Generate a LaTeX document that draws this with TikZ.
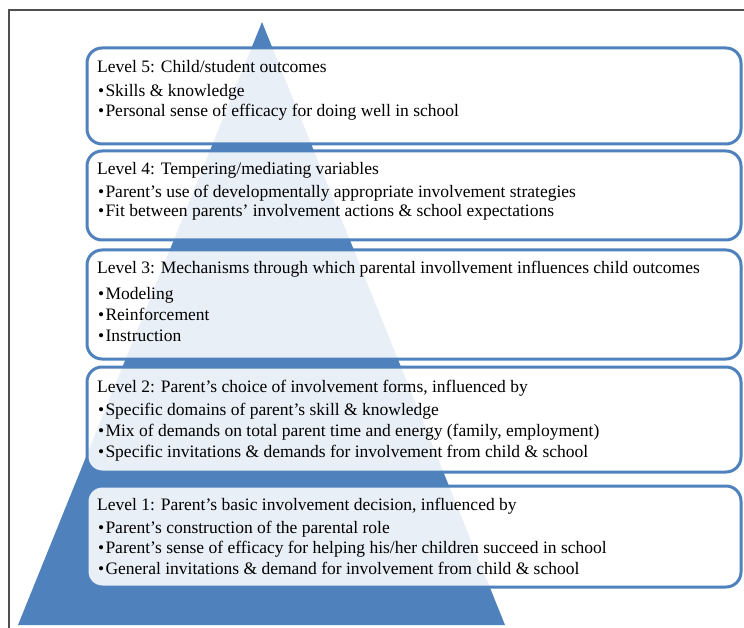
\documentclass[tikz,border=0pt]{standalone}
\usepackage{fontspec}
\setmainfont{Liberation Serif}
\definecolor{PyramidBlue}{HTML}{4F81BD}
\definecolor{FrameGray}{HTML}{505050}
\newcommand{\bulletline}[1]{\textbullet\hspace{1.2pt}#1}

\begin{document}
\begin{tikzpicture}[x=1pt, y=-1pt, every node/.style={font=\fontsize{17.5}{20}\selectfont},
  level/.style={draw=PyramidBlue, line width=3pt, rounded corners=15pt, fill=white, fill opacity=0.88, text opacity=1,
    anchor=north west, minimum width=654pt, inner sep=0pt, outer sep=0pt},
  head/.style={anchor=base west, inner sep=0pt},
  item/.style={anchor=base west, inner sep=0pt}]
\useasboundingbox (0,0) rectangle (744,628);

% Frame
\draw[FrameGray, line width=2pt] (9,628) -- (9,10) -- (744,10);

% Pyramid
\fill[PyramidBlue] (262,22) -- (505,625) -- (18,625) -- cycle;

% Level boxes
\node[level, minimum height=96pt] (lv5) at (87,48) {};
\node[level, minimum height=89pt] (lv4) at (87,151) {};
\node[level, minimum height=109pt] (lv3) at (87,250) {};
\node[level, minimum height=105pt] (lv2) at (87,367) {};
\node[level, minimum height=101pt] (lv1) at (87,486) {};

% Level 5
\node[head] (lv5-h) at (97,73) {Level 5: Child/student outcomes};
\foreach \y/\itm [count=\i] in {97/Skills \& knowledge, 117/Personal sense of efficacy for doing well in school}
  \node[item] (lv5-\i) at (98,\y) {\bulletline{\itm}};

% Level 4
\node[head] (lv4-h) at (97,175) {Level 4: Tempering/mediating variables};
\foreach \y/\itm [count=\i] in {198/Parent's use of developmentally appropriate involvement strategies,
  217/Fit between parents' involvement actions \& school expectations}
  \node[item] (lv4-\i) at (98,\y) {\bulletline{\itm}};

% Level 3
\node[head] (lv3-h) at (97,273) {Level 3: Mechanisms through which parental invollvement influences child outcomes};
\foreach \y/\itm [count=\i] in {299/Modeling, 320/Reinforcement, 341/Instruction}
  \node[item] (lv3-\i) at (98,\y) {\bulletline{\itm}};

% Level 2
\node[head] (lv2-h) at (97,392) {Level 2: Parent's choice of involvement forms, influenced by};
\foreach \y/\itm [count=\i] in {415/Specific domains of parent's skill \& knowledge,
  436/{Mix of demands on total parent time and energy (family, employment)},
  457/Specific invitations \& demands for involvement from child \& school}
  \node[item] (lv2-\i) at (98,\y) {\bulletline{\itm}};

% Level 1
\node[head] (lv1-h) at (97,510) {Level 1: Parent's basic involvement decision, influenced by};
\foreach \y/\itm [count=\i] in {533/Parent's construction of the parental role,
  553/{Parent's sense of efficacy for helping his/her children succeed in school},
  574/General invitations \& demand for involvement from child \& school}
  \node[item] (lv1-\i) at (98,\y) {\bulletline{\itm}};
\end{tikzpicture}
\end{document}
